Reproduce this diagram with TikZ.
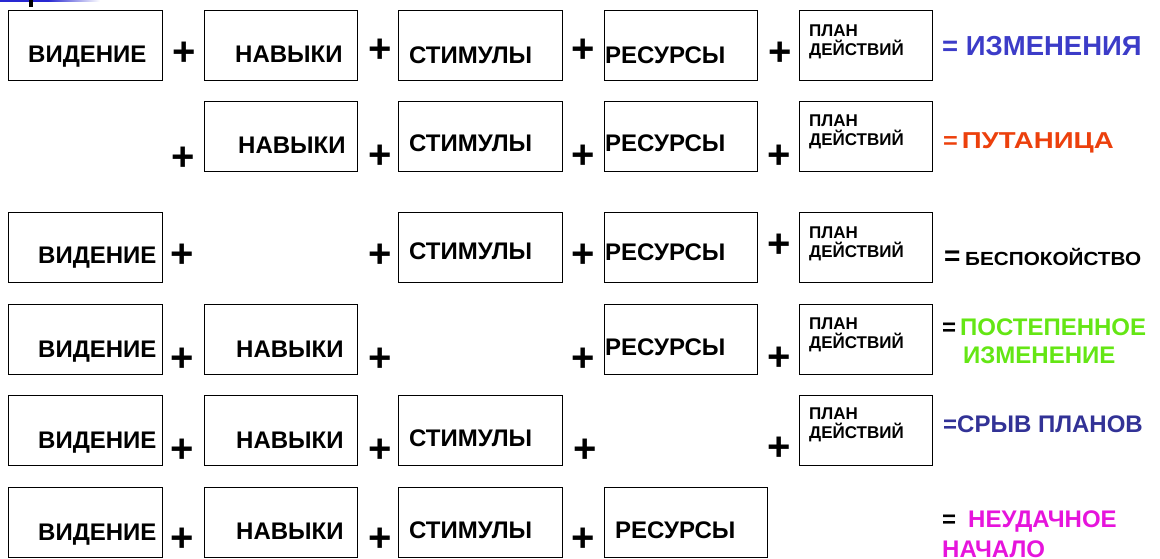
\documentclass[tikz,border=0pt]{standalone}
\usepackage{fontspec}
\setmainfont{Liberation Sans}
\definecolor{cBlue}{RGB}{60,60,200}
\definecolor{cRed}{RGB}{236,64,12}
\definecolor{cGreen}{RGB}{100,230,20}
\definecolor{cNavy}{RGB}{50,50,150}
\definecolor{cMag}{RGB}{230,20,220}
\definecolor{cBar}{RGB}{40,40,210}
\begin{document}
\begin{tikzpicture}[x=1pt,y=-1pt,
  box/.style={draw, line width=1.4pt, inner sep=0pt, anchor=north west, minimum height=69.5pt},
  lbl/.style={anchor=base west, inner sep=0pt, font=\bfseries\fontsize{24}{28}\selectfont},
  plan/.style={anchor=base west, inner sep=0pt, align=left, font=\bfseries\fontsize{17}{19}\selectfont},
  plus/.style={inner sep=0pt, font=\bfseries\fontsize{40}{42}\selectfont},
  res/.style={anchor=base west, inner sep=0pt, font=\bfseries\fontsize{24}{29}\selectfont}]
\useasboundingbox (0,0) rectangle (1160,558);
% fragments at top left
\fill[cBar] (0,0) rectangle (48,1.7);
\shade[left color=cBar, right color=white] (48,0) rectangle (100,1.7);
\fill[black] (29,0) rectangle (33,7);

% ---- row 1
\node[box, minimum width=154pt] (v1) at (8,10) {};
\node[box, minimum width=153pt] (n1) at (204,10) {};
\node[box, minimum width=164pt] (s1) at (398,10) {};
\node[box, minimum width=153pt] (r1) at (604,10) {};
\node[box, minimum width=133pt] (p1) at (799,10) {};
\node[lbl] (tv1) at (28,62) {ВИДЕНИЕ};
\node[lbl] (tn1) at (235,62) {НАВЫКИ};
\node[lbl] (ts1) at (409,63) {СТИМУЛЫ};
\node[lbl] (tr1) at (605,63) {РЕСУРСЫ};
\node[plan] (tp1) at (809,55) {ПЛАН\\ДЕЙСТВИЙ};
\node[plus] (a1) at (184,54) {+};
\node[plus] (b1) at (380,51) {+};
\node[plus] (c1) at (583,51) {+};
\node[plus] (d1) at (780,54) {+};
\node[res, text=cBlue, font=\bfseries\fontsize{27.5}{30}\selectfont] (e1) at (942,55) {= ИЗМЕНЕНИЯ};

% ---- row 2
\node[box, minimum width=153pt] (n2) at (204,101) {};
\node[box, minimum width=164pt] (s2) at (398,101) {};
\node[box, minimum width=153pt] (r2) at (604,101) {};
\node[box, minimum width=133pt] (p2) at (799,101) {};
\node[lbl] (tn2) at (238,153) {НАВЫКИ};
\node[lbl] (ts2) at (409,151) {СТИМУЛЫ};
\node[lbl] (tr2) at (605,151) {РЕСУРСЫ};
\node[plan] (tp2) at (809,145) {ПЛАН\\ДЕЙСТВИЙ};
\node[plus] (a2) at (183,159) {+};
\node[plus] (b2) at (380,157) {+};
\node[plus] (c2) at (583,157) {+};
\node[plus] (d2) at (779,157) {+};
\node[res, text=cRed, font=\bfseries\fontsize{23}{28}\selectfont] (e2) at (943,148) {\scalebox{1.1}[1]{=}\,\scalebox{1.2}[1]{ПУТАНИЦА}};

% ---- row 3
\node[box, minimum width=154pt] (v3) at (8,212) {};
\node[box, minimum width=164pt] (s3) at (398,212) {};
\node[box, minimum width=153pt] (r3) at (604,212) {};
\node[box, minimum width=133pt] (p3) at (799,212) {};
\node[lbl] (tv3) at (38,263) {ВИДЕНИЕ};
\node[lbl] (ts3) at (409,259) {СТИМУЛЫ};
\node[lbl] (tr3) at (605,260) {РЕСУРСЫ};
\node[plan] (tp3) at (809,257) {ПЛАН\\ДЕЙСТВИЙ};
\node[plus] (a3) at (182,256) {+};
\node[plus] (b3) at (380,256) {+};
\node[plus] (c3) at (583,256) {+};
\node[plus] (d3) at (779,246) {+};
\node[res, font=\bfseries\fontsize{28}{30}\selectfont] (q3) at (944,265) {=};
\node[res, font=\bfseries\fontsize{19}{22}\selectfont] (e3) at (965,265) {\scalebox{1.09}[1]{БЕСПОКОЙСТВО}};

% ---- row 4
\node[box, minimum width=154pt] (v4) at (8,304) {};
\node[box, minimum width=153pt] (n4) at (204,304) {};
\node[box, minimum width=153pt] (r4) at (604,304) {};
\node[box, minimum width=133pt] (p4) at (799,304) {};
\node[lbl] (tv4) at (38,357) {ВИДЕНИЕ};
\node[lbl] (tn4) at (236,357) {НАВЫКИ};
\node[lbl] (tr4) at (605,355) {РЕСУРСЫ};
\node[plan] (tp4) at (809,348) {ПЛАН\\ДЕЙСТВИЙ};
\node[plus] (a4) at (182,360) {+};
\node[plus] (b4) at (380,360) {+};
\node[plus] (c4) at (583,360) {+};
\node[plus] (d4) at (779,359) {+};
\node[res] (q4) at (942,335) {=};
\node[res, text=cGreen] (e4) at (960,335) {ПОСТЕПЕННОЕ};
\node[res, text=cGreen] (f4) at (963,363) {ИЗМЕНЕНИЕ};

% ---- row 5
\node[box, minimum width=154pt] (v5) at (8,395) {};
\node[box, minimum width=153pt] (n5) at (204,395) {};
\node[box, minimum width=164pt] (s5) at (398,395) {};
\node[box, minimum width=133pt] (p5) at (799,395) {};
\node[lbl] (tv5) at (38,448) {ВИДЕНИЕ};
\node[lbl] (tn5) at (236,448) {НАВЫКИ};
\node[lbl] (ts5) at (409,446) {СТИМУЛЫ};
\node[plan] (tp5) at (809,438) {ПЛАН\\ДЕЙСТВИЙ};
\node[plus] (a5) at (182,451) {+};
\node[plus] (b5) at (380,451) {+};
\node[plus] (c5) at (585,451) {+};
\node[plus] (d5) at (779,449) {+};
\node[res, text=cNavy] (e5) at (943,432) {=СРЫВ ПЛАНОВ};

% ---- row 6
\node[box, minimum width=154pt] (v6) at (8,487) {};
\node[box, minimum width=153pt] (n6) at (204,487) {};
\node[box, minimum width=164pt] (s6) at (398,487) {};
\node[box, minimum width=163pt] (r6) at (604,487) {};
\node[lbl] (tv6) at (38,540) {ВИДЕНИЕ};
\node[lbl] (tn6) at (236,539) {НАВЫКИ};
\node[lbl] (ts6) at (409,538) {СТИМУЛЫ};
\node[lbl] (tr6) at (615,538) {РЕСУРСЫ};
\node[plus] (a6) at (182,540) {+};
\node[plus] (b6) at (380,540) {+};
\node[plus] (c6) at (583,540) {+};
\node[res, font=\bfseries\fontsize{24}{26}\selectfont] (q6) at (942,527) {=};
\node[res, text=cMag] (e6) at (968,527) {НЕУДАЧНОЕ};
\node[res, text=cMag] (f6) at (942,557) {НАЧАЛО};
\end{tikzpicture}
\end{document}
